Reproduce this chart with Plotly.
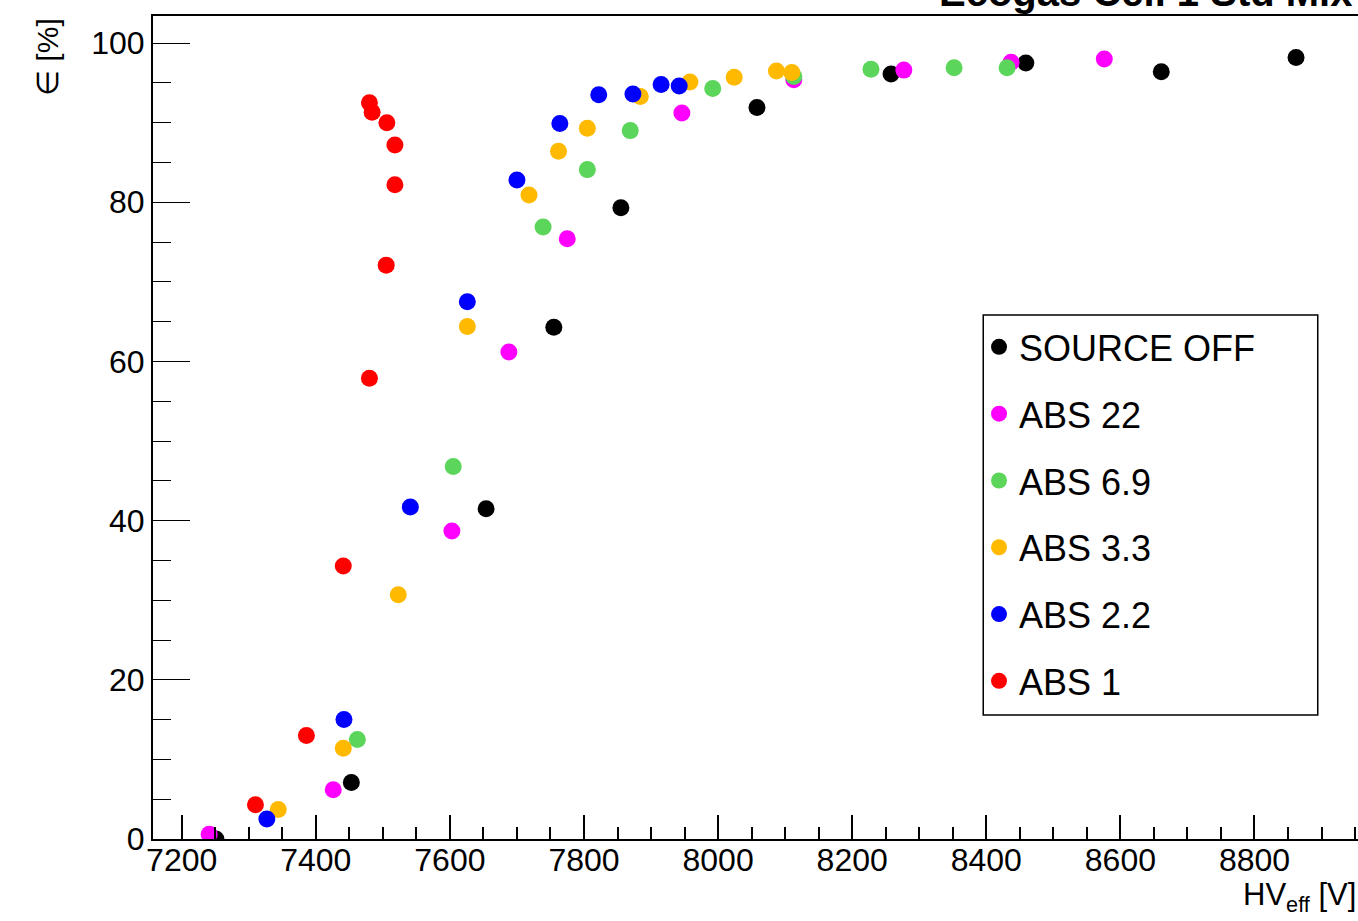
import plotly.graph_objects as go

# ---------------- data ----------------
names = ["SOURCE OFF", "ABS 22", "ABS 6.9", "ABS 3.3", "ABS 2.2", "ABS 1"]
colors = ["#000000", "#ff00ff", "#5bd65b", "#ffba00", "#0000ff", "#ff0000"]

hv_off = [7251, 7453, 7654, 7755, 7855, 8058, 8258, 8459, 8661, 8862]
eff_off = [0.0, 7.1, 41.5, 64.3, 79.3, 91.9, 96.1, 97.5, 96.4, 98.2]

hv_22 = [7241, 7426, 7603, 7688, 7775, 7946, 8113, 8277, 8437, 8576]
eff_22 = [0.6, 6.2, 38.7, 61.2, 75.4, 91.2, 95.4, 96.6, 97.6, 98.0]

hv_69 = [7462, 7605, 7739, 7805, 7869, 7992, 8113, 8228, 8352, 8431]
eff_69 = [12.5, 46.8, 76.9, 84.1, 89.0, 94.3, 95.8, 96.7, 96.9, 96.9]

hv_33 = [7344, 7441, 7523, 7626, 7718, 7762, 7805, 7884, 7958, 8024, 8087, 8110]
eff_33 = [3.7, 11.4, 30.7, 64.4, 80.9, 86.4, 89.3, 93.3, 95.1, 95.7, 96.5, 96.3]

hv_22b = [7327, 7442, 7541, 7626, 7700, 7764, 7822, 7873, 7915, 7942]
eff_22b = [2.5, 15.0, 41.7, 67.5, 82.8, 89.9, 93.5, 93.6, 94.8, 94.6]

hv_1 = [7310, 7386, 7441, 7480, 7505, 7518, 7518, 7506, 7484, 7480]
eff_1 = [4.3, 13.0, 34.3, 57.9, 72.1, 82.2, 87.2, 90.0, 91.3, 92.5]

series_x = [hv_off, hv_22, hv_69, hv_33, hv_22b, hv_1]
series_y = [eff_off, eff_22, eff_69, eff_33, eff_22b, eff_1]

title_text = "Ecogas Cell 1 Std Mix"
x_title = "HV<sub>eff</sub> [V]"
y_title = "∈ [%]"

FONT = "Liberation Sans, Arial, Helvetica, sans-serif"

fig = go.Figure()
for i, nm in enumerate(names):
    fig.add_trace(go.Scatter(
        x=series_x[i], y=series_y[i], mode="markers", name=nm,
        legendgroup=nm,
        marker=dict(color=colors[i], size=17, line=dict(width=0)),
    ))

fig.update_layout(
    width=1358, height=921,
    margin=dict(l=153, r=0, t=16, b=82),
    paper_bgcolor="white", plot_bgcolor="white",
    font=dict(family=FONT, color="black"),
    showlegend=True,
    legend=dict(
        x=0.6855, y=0.6343, xanchor="left", yanchor="top",
        bgcolor="rgba(0,0,0,0)", borderwidth=0,
        font=dict(size=36, family=FONT, color="black"),
        tracegroupgap=17, itemsizing="trace",
    ),
)

fig.update_xaxes(
    range=[7157.2, 8954.4],
    showgrid=False, zeroline=False,
    showline=True, linecolor="black", linewidth=2, mirror=True,
    ticks="inside", ticklen=24, tickwidth=1.5, tickcolor="black",
    tick0=7200, dtick=200, ticklabelstandoff=-8,
    tickfont=dict(size=32, family=FONT, color="black"),
    minor=dict(ticks="inside", ticklen=12, tickwidth=1.5, tickcolor="black", dtick=50, tick0=7200),
)
fig.update_yaxes(
    range=[0, 103.4],
    showgrid=False, zeroline=False,
    showline=True, linecolor="black", linewidth=2, mirror=False,
    ticks="inside", ticklen=37, tickwidth=1.2, tickcolor="black",
    tick0=0, dtick=20,
    tickfont=dict(size=32, family=FONT, color="black"),
    minor=dict(ticks="inside", ticklen=18, tickwidth=1.2, tickcolor="black", dtick=5, tick0=0),
)

# legend frame
fig.add_shape(type="rect", xref="paper", yref="paper",
              x0=0.6890, x1=0.9666, y0=0.1507, y1=0.6367,
              line=dict(color="black", width=1.5), fillcolor="rgba(0,0,0,0)")

# axis titles and (clipped) main title
fig.add_annotation(text=x_title, xref="paper", yref="paper", x=1.0, y=-0.0705,
                   xanchor="right", yanchor="middle", showarrow=False,
                   font=dict(size=31, family=FONT, color="black"))
fig.add_annotation(text=y_title, xref="paper", yref="paper", x=-0.088, y=1.0,
                   xanchor="center", yanchor="top", textangle=-90, showarrow=False,
                   font=dict(size=30, family=FONT, color="black"))
fig.add_annotation(text="<b>" + title_text + "</b>", xref="paper", yref="paper",
                   x=(937 - 153) / 1205, y=1.0006, xanchor="left", yanchor="bottom",
                   showarrow=False, font=dict(size=40, family=FONT, color="black"))

fig.write_html("out.html", config={"displayModeBar": False},
               post_script="document.body.style.margin='0';")
